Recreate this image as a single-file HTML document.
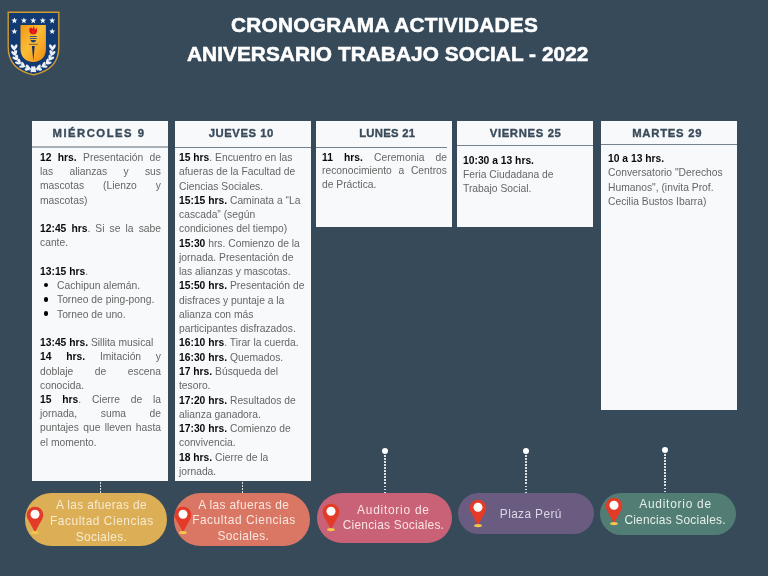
<!DOCTYPE html>
<html><head><meta charset="utf-8">
<style>
*{margin:0;padding:0;box-sizing:border-box}
html,body{width:768px;height:576px;overflow:hidden}
#wrap{position:absolute;left:0;top:0;width:768px;height:576px;will-change:transform}
body{background:#374a5a;position:relative;font-family:"Liberation Sans",sans-serif}
.abs{position:absolute}
.title{position:absolute;color:#fff;font-weight:bold;font-size:20.8px;white-space:nowrap;line-height:20px;-webkit-text-stroke:0.55px #fff}
.col{position:absolute;top:121px;width:136px;background:#f8f9fb}
.hd{position:absolute;left:0;top:0;width:136px;height:26px;text-align:center;color:#3a4b5b;font-weight:bold;font-size:11.3px;letter-spacing:0.9px;line-height:24.8px;white-space:nowrap;-webkit-text-stroke:0.35px #3a4b5b}
.sep{position:absolute;left:0;height:1px;background:#76838e}
.txt{position:absolute;font-size:10.3px;line-height:14.23px;color:#666}
.txt div{white-space:nowrap}
.txt .j{text-align:justify;text-align-last:justify;white-space:normal}
.txt b{color:#0a0a0a}
.txt .li{position:relative;padding-left:17px}
.txt .li:before{content:"";position:absolute;left:3.6px;top:3.9px;width:4.4px;height:4.4px;border-radius:50%;background:#000}
.dot{position:absolute;width:6px;height:6px;border-radius:50%;background:#fff}
.vl{position:absolute;width:1.6px;background:repeating-linear-gradient(to bottom,#dde1e5 0 1.7px,transparent 1.7px 3.05px)}
.pill{position:absolute;border-radius:27px}
.ptxt{position:absolute;text-align:center;font-size:11.9px;line-height:16px;white-space:nowrap;width:200px}
.pin{position:absolute}
</style></head><body><div id="wrap">

<!-- logo -->
<svg class="abs" style="left:7px;top:11px" width="53" height="65" viewBox="0 0 53 65">
  <defs><linearGradient id="gg" x1="0" y1="0" x2="1" y2="1"><stop offset="0" stop-color="#f39616"/><stop offset="0.45" stop-color="#fbbd35"/><stop offset="1" stop-color="#f08a12"/></linearGradient></defs>
  <path d="M1.2 1.2 H51.8 V36 C51.8 53 40 61 26.5 63.8 C13 61 1.2 53 1.2 36 Z" fill="#123a72" stroke="#cf9a32" stroke-width="1.4"/>
  <g fill="#f4f6fa"><polygon points="7.40,6.40 8.19,8.51 10.44,8.61 8.68,10.02 9.28,12.19 7.40,10.95 5.52,12.19 6.12,10.02 4.36,8.61 6.61,8.51"/><polygon points="16.90,6.40 17.69,8.51 19.94,8.61 18.18,10.02 18.78,12.19 16.90,10.95 15.02,12.19 15.62,10.02 13.86,8.61 16.11,8.51"/><polygon points="26.30,6.40 27.09,8.51 29.34,8.61 27.58,10.02 28.18,12.19 26.30,10.95 24.42,12.19 25.02,10.02 23.26,8.61 25.51,8.51"/><polygon points="35.80,6.40 36.59,8.51 38.84,8.61 37.08,10.02 37.68,12.19 35.80,10.95 33.92,12.19 34.52,10.02 32.76,8.61 35.01,8.51"/><polygon points="45.20,6.40 45.99,8.51 48.24,8.61 46.48,10.02 47.08,12.19 45.20,10.95 43.32,12.19 43.92,10.02 42.16,8.61 44.41,8.51"/><polygon points="7.40,17.30 8.19,19.41 10.44,19.51 8.68,20.92 9.28,23.09 7.40,21.85 5.52,23.09 6.12,20.92 4.36,19.51 6.61,19.41"/><polygon points="45.20,17.30 45.99,19.41 48.24,19.51 46.48,20.92 47.08,23.09 45.20,21.85 43.32,23.09 43.92,20.92 42.16,19.51 44.41,19.41"/></g>
  <path d="M13.5 14.1 H38.9 V38 C38.9 46 33.5 51 26.2 51 C19 51 13.5 46 13.5 38 Z" fill="url(#gg)"/>
  <path d="M22.5 17 C21.8 19.5 22.3 22 24.5 23.2 H28.2 C30.3 22 30.6 19 29.3 16.5 C29 18 28.3 18.8 27.6 18.6 C28 17 27.3 15.6 26.2 15.2 C26.4 16.8 25.8 17.8 25 17.6 C24.8 16.8 24.2 16.2 23.6 16 C23.8 17.2 23.4 17.8 22.5 17Z" fill="#e0141c"/>
  <path d="M25 19.5 C24.6 20.8 25.2 22 26.3 22.3 C27.4 22 27.8 20.8 27.3 19.5 C27 20.3 26.5 20.5 26.3 20 C26.1 20.5 25.6 20.3 25 19.5Z" fill="#e83020"/>
  <rect x="22.8" y="25" width="7" height="0.9" fill="#2a4a78"/>
  <rect x="22.8" y="27" width="7" height="0.9" fill="#2a4a78"/>
  <path d="M23.6 29 H29 C28.9 30.6 27.9 31.3 26.3 31.3 C24.7 31.3 23.7 30.6 23.6 29Z" fill="#1f3f78"/>
  <rect x="21.8" y="32.8" width="9" height="0.9" fill="#6a5a4a"/>
  <path d="M24.9 35 H27.7 L26.3 50 Z" fill="#1b3060"/>
  <g fill="#eef1f6"><path d="M7.3 38.5 Q7.8 57 31 59" fill="none" stroke="#eef1f6" stroke-width="0.9"/><ellipse cx="8.56" cy="36.18" rx="3.08" ry="1.43" transform="rotate(298.5 8.56 36.18)"/><ellipse cx="5.92" cy="36.25" rx="3.08" ry="1.43" transform="rotate(238.5 5.92 36.25)"/><ellipse cx="8.68" cy="41.68" rx="2.80" ry="1.30" transform="rotate(285.4 8.68 41.68)"/><ellipse cx="6.36" cy="42.29" rx="2.80" ry="1.30" transform="rotate(225.4 6.36 42.29)"/><ellipse cx="9.93" cy="46.25" rx="2.80" ry="1.30" transform="rotate(269.6 9.93 46.25)"/><ellipse cx="7.86" cy="47.47" rx="2.80" ry="1.30" transform="rotate(209.6 7.86 47.47)"/><ellipse cx="12.30" cy="50.16" rx="2.80" ry="1.30" transform="rotate(252.9 12.30 50.16)"/><ellipse cx="10.67" cy="51.92" rx="2.80" ry="1.30" transform="rotate(192.9 10.67 51.92)"/><ellipse cx="15.96" cy="53.39" rx="2.80" ry="1.30" transform="rotate(237.8 15.96 53.39)"/><ellipse cx="14.84" cy="55.51" rx="2.80" ry="1.30" transform="rotate(177.8 14.84 55.51)"/><ellipse cx="20.96" cy="55.82" rx="2.80" ry="1.30" transform="rotate(225.9 20.96 55.82)"/><ellipse cx="20.30" cy="58.13" rx="2.80" ry="1.30" transform="rotate(165.9 20.30 58.13)"/><ellipse cx="26.40" cy="57.23" rx="2.80" ry="1.30" transform="rotate(217.8 26.40 57.23)"/><ellipse cx="26.08" cy="59.61" rx="2.80" ry="1.30" transform="rotate(157.8 26.08 59.61)"/><path d="M45.300000000000004 38.5 Q44.800000000000004 57 21.6 59" fill="none" stroke="#eef1f6" stroke-width="0.9"/><ellipse cx="46.68" cy="36.25" rx="3.08" ry="1.43" transform="rotate(301.5 46.68 36.25)"/><ellipse cx="44.04" cy="36.18" rx="3.08" ry="1.43" transform="rotate(241.5 44.04 36.18)"/><ellipse cx="46.24" cy="42.29" rx="2.80" ry="1.30" transform="rotate(314.6 46.24 42.29)"/><ellipse cx="43.92" cy="41.68" rx="2.80" ry="1.30" transform="rotate(254.6 43.92 41.68)"/><ellipse cx="44.74" cy="47.47" rx="2.80" ry="1.30" transform="rotate(330.4 44.74 47.47)"/><ellipse cx="42.67" cy="46.25" rx="2.80" ry="1.30" transform="rotate(270.4 42.67 46.25)"/><ellipse cx="41.93" cy="51.92" rx="2.80" ry="1.30" transform="rotate(347.1 41.93 51.92)"/><ellipse cx="40.30" cy="50.16" rx="2.80" ry="1.30" transform="rotate(287.1 40.30 50.16)"/><ellipse cx="37.76" cy="55.51" rx="2.80" ry="1.30" transform="rotate(362.2 37.76 55.51)"/><ellipse cx="36.64" cy="53.39" rx="2.80" ry="1.30" transform="rotate(302.2 36.64 53.39)"/><ellipse cx="32.30" cy="58.13" rx="2.80" ry="1.30" transform="rotate(374.1 32.30 58.13)"/><ellipse cx="31.64" cy="55.82" rx="2.80" ry="1.30" transform="rotate(314.1 31.64 55.82)"/><ellipse cx="26.52" cy="59.61" rx="2.80" ry="1.30" transform="rotate(382.2 26.52 59.61)"/><ellipse cx="26.20" cy="57.23" rx="2.80" ry="1.30" transform="rotate(322.2 26.20 57.23)"/></g>
</svg>

<div class="title" style="left:231px;top:15px;letter-spacing:0.27px">CRONOGRAMA ACTIVIDADES</div>
<div class="title" style="left:187px;top:44px;letter-spacing:0.06px">ANIVERSARIO TRABAJO SOCIAL - 2022</div>

<!-- col 1 -->
<div class="col" style="left:32px;height:360px">
  <div class="hd" style="letter-spacing:1.490px;padding-left:1.490px;left:-1.75px">MIÉRCOLES 9</div>
  <div class="sep" style="top:25px;height:2px;width:136px;background:#a9b1b8"></div>
  <div class="txt" style="left:8px;top:30px;width:121px">
    <div class="j"><b>12 hrs.</b> Presentación de</div>
    <div class="j">las alianzas y sus</div>
    <div class="j">mascotas (Lienzo y</div>
    <div>mascotas)</div>
    <div>&nbsp;</div>
    <div class="j"><b>12:45 hrs</b>. Si se la sabe</div>
    <div>cante.</div>
    <div>&nbsp;</div>
    <div><b>13:15 hrs</b>.</div>
    <div class="li">Cachipun alemán.</div>
    <div class="li">Torneo de ping-pong.</div>
    <div class="li">Torneo de uno.</div>
    <div>&nbsp;</div>
    <div><b>13:45 hrs.</b> Sillita musical</div>
    <div class="j"><b>14 hrs.</b> Imitación y</div>
    <div class="j">doblaje de escena</div>
    <div>conocida.</div>
    <div class="j"><b>15 hrs</b>. Cierre de la</div>
    <div class="j">jornada, suma de</div>
    <div class="j">puntajes que lleven hasta</div>
    <div>el momento.</div>
  </div>
</div>

<!-- col 2 -->
<div class="col" style="left:175px;height:360px">
  <div class="hd" style="letter-spacing:0.536px;padding-left:0.536px;left:-1.95px">JUEVES 10</div>
  <div class="sep" style="top:26px;width:136px"></div>
  <div class="txt" style="left:4px;top:30px;width:130px;line-height:14.27px">
    <div><b>15 hrs</b>. Encuentro en las</div>
    <div>afueras de la Facultad de</div>
    <div>Ciencias Sociales.</div>
    <div><b>15:15 hrs.</b> Caminata a “La</div>
    <div>cascada” (según</div>
    <div>condiciones del tiempo)</div>
    <div><b>15:30</b> hrs. Comienzo de la</div>
    <div>jornada. Presentación de</div>
    <div>las alianzas y mascotas.</div>
    <div><b>15:50 hrs.</b> Presentación de</div>
    <div>disfraces y puntaje a la</div>
    <div>alianza con más</div>
    <div>participantes disfrazados.</div>
    <div><b>16:10 hrs</b>. Tirar la cuerda.</div>
    <div><b>16:30 hrs.</b> Quemados.</div>
    <div><b>17 hrs.</b> Búsqueda del</div>
    <div>tesoro.</div>
    <div><b>17:20 hrs.</b> Resultados de</div>
    <div>alianza ganadora.</div>
    <div><b>17:30 hrs.</b> Comienzo de</div>
    <div>convivencia.</div>
    <div><b>18 hrs.</b> Cierre de la</div>
    <div>jornada.</div>
  </div>
</div>

<!-- col 3 -->
<div class="col" style="left:316px;height:106px">
  <div class="hd" style="letter-spacing:0.285px;padding-left:0.285px;left:3.15px">LUNES 21</div>
  <div class="sep" style="top:26px;width:131px"></div>
  <div class="txt" style="left:6px;top:29.5px;width:125px;line-height:13.95px">
    <div class="j"><b>11 hrs.</b> Ceremonia de</div>
    <div class="j">reconocimiento a Centros</div>
    <div>de Práctica.</div>
  </div>
</div>

<!-- col 4 -->
<div class="col" style="left:457px;height:106px">
  <div class="hd" style="letter-spacing:0.657px;padding-left:0.657px;left:0.30px">VIERNES 25</div>
  <div class="sep" style="top:23.7px;height:1.2px;width:136px"></div>
  <div class="txt" style="left:6px;top:33.3px;width:125px;line-height:13.85px">
    <div><b>10:30 a 13 hrs.</b></div>
    <div>Feria Ciudadana de</div>
    <div>Trabajo Social.</div>
  </div>
</div>

<!-- col 5 -->
<div class="col" style="left:601px;height:289px">
  <div class="hd" style="letter-spacing:0.741px;padding-left:0.741px;left:-2.15px">MARTES 29</div>
  <div class="sep" style="top:22.9px;height:1.2px;width:136px"></div>
  <div class="txt" style="left:7px;top:31.2px;width:125px;line-height:14.2px">
    <div><b>10 a 13 hrs.</b></div>
    <div>Conversatorio "Derechos</div>
    <div>Humanos", (invita Prof.</div>
    <div>Cecilia Bustos Ibarra)</div>
  </div>
</div>

<!-- connectors -->
<div class="vl" style="left:99.8px;top:482px;height:11px"></div>
<div class="vl" style="left:241.6px;top:482px;height:11px"></div>
<div class="dot" style="left:381.9px;top:447.9px"></div>
<div class="vl" style="left:384.1px;top:454.6px;height:38.4px"></div>
<div class="dot" style="left:522.9px;top:447.9px"></div>
<div class="vl" style="left:525px;top:454.6px;height:38.4px"></div>
<div class="dot" style="left:662px;top:446.8px"></div>
<div class="vl" style="left:664.1px;top:454px;height:39px"></div>

<!-- pills -->
<div class="pill" style="left:25px;top:493px;width:142px;height:53px;background:#dcaf56"></div>
<div class="ptxt" style="left:1.30px;top:497.08px;color:#f6ead0;letter-spacing:0.36px;padding-left:0.36px">A las afueras de</div>
<div class="ptxt" style="left:1.65px;top:512.88px;color:#f6ead0;letter-spacing:0.54px;padding-left:0.54px">Facultad Ciencias</div>
<div class="ptxt" style="left:1.35px;top:528.58px;color:#f6ead0;letter-spacing:0.39px;padding-left:0.39px">Sociales.</div>
<div class="pill" style="left:174px;top:493px;width:136px;height:53px;background:#d97764"></div>
<div class="ptxt" style="left:143.50px;top:496.78px;color:#fae6df;letter-spacing:0.36px;padding-left:0.36px">A las afueras de</div>
<div class="ptxt" style="left:143.75px;top:511.98px;color:#fae6df;letter-spacing:0.54px;padding-left:0.54px">Facultad Ciencias</div>
<div class="ptxt" style="left:143.25px;top:527.58px;color:#fae6df;letter-spacing:0.39px;padding-left:0.39px">Sociales.</div>
<div class="pill" style="left:317px;top:493px;width:135px;height:50px;background:#c96276"></div>
<div class="ptxt" style="left:293.00px;top:501.68px;color:#fae2e6;letter-spacing:0.76px;padding-left:0.76px">Auditorio de</div>
<div class="ptxt" style="left:293.35px;top:517.38px;color:#fae2e6;letter-spacing:0.23px;padding-left:0.23px">Ciencias Sociales.</div>
<div class="pill" style="left:458px;top:493px;width:136px;height:41px;background:#6a5b80"></div>
<div class="ptxt" style="left:430.60px;top:506.08px;color:#ddd6e4;letter-spacing:0.37px;padding-left:0.37px">Plaza Perú</div>
<div class="pill" style="left:600px;top:493px;width:136px;height:42px;background:#527d74"></div>
<div class="ptxt" style="left:575.20px;top:496.48px;color:#e4eeea;letter-spacing:0.76px;padding-left:0.76px">Auditorio de</div>
<div class="ptxt" style="left:574.95px;top:511.98px;color:#e4eeea;letter-spacing:0.23px;padding-left:0.23px">Ciencias Sociales.</div>
<svg class="pin" style="left:26.40px;top:505.90px" width="18" height="29" viewBox="-9 -8 18 29"><path d="M0 18.2 L-7.27 5 A8.3 8.3 0 1 1 7.27 5 Z" fill="#e33b27"/><circle cx="0" cy="0.3" r="4.5" fill="#fff"/><ellipse cx="0" cy="18.6" rx="3.9" ry="1.7" fill="#f4c64b"/></svg>
<svg class="pin" style="left:174.25px;top:505.75px" width="18" height="29" viewBox="-9 -8 18 29"><path d="M0 18.2 L-7.27 5 A8.3 8.3 0 1 1 7.27 5 Z" fill="#e33b27"/><circle cx="0" cy="0.3" r="4.5" fill="#fff"/><ellipse cx="0" cy="18.6" rx="3.9" ry="1.7" fill="#f4c64b"/></svg>
<svg class="pin" style="left:321.50px;top:502.50px" width="18" height="29" viewBox="-9 -8 18 29"><path d="M0 18.2 L-7.27 5 A8.3 8.3 0 1 1 7.27 5 Z" fill="#e33b27"/><circle cx="0" cy="0.3" r="4.5" fill="#fff"/><ellipse cx="0" cy="18.6" rx="3.9" ry="1.7" fill="#f4c64b"/></svg>
<svg class="pin" style="left:469.00px;top:499.10px" width="18" height="29" viewBox="-9 -8 18 29"><path d="M0 18.2 L-7.27 5 A8.3 8.3 0 1 1 7.27 5 Z" fill="#e33b27"/><circle cx="0" cy="0.3" r="4.5" fill="#fff"/><ellipse cx="0" cy="18.6" rx="3.9" ry="1.7" fill="#f4c64b"/></svg>
<svg class="pin" style="left:605.40px;top:497.40px" width="18" height="29" viewBox="-9 -8 18 29"><path d="M0 18.2 L-7.27 5 A8.3 8.3 0 1 1 7.27 5 Z" fill="#e33b27"/><circle cx="0" cy="0.3" r="4.5" fill="#fff"/><ellipse cx="0" cy="18.6" rx="3.9" ry="1.7" fill="#f4c64b"/></svg>

</div></body></html>
